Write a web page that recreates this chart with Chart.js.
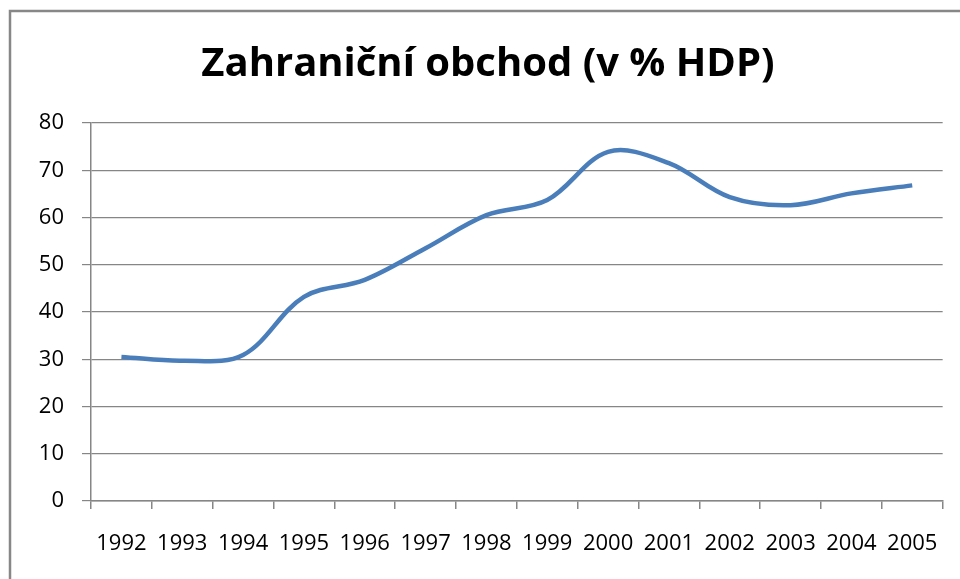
<!DOCTYPE html>
<html>
<head>
<meta charset="utf-8">
<script src="https://cdn.jsdelivr.net/npm/chart.js@4"></script>
<style>
  html, body { margin: 0; padding: 0; background: #fff; overflow: hidden; }
  #wrap { width: 960px; height: 579px; }
</style>
</head>
<body>
<div id="wrap"><canvas id="grafico"></canvas></div>
<script>
// data
const roky = ["1992", "1993", "1994", "1995", "1996", "1997", "1998", "1999", "2000", "2001", "2002", "2003", "2004", "2005"];
const obchod = [30.5, 29.7, 30.9, 43.2, 46.8, 53.5, 60.5, 63.7, 73.9, 71.5, 64.3, 62.6, 65.1, 66.8];
const osaY = { min: 0, max: 80, krok: 10 };

// grey frame at the left and top edge (the Excel chart border)
const ramecek = {
    id: "ramecek",
    beforeDraw(chart) {
        const ctx = chart.ctx;
        ctx.save();
        ctx.strokeStyle = "#878787";
        ctx.lineWidth = 2.5;
        ctx.beginPath();
        ctx.moveTo(10, chart.height);
        ctx.lineTo(10, 11);
        ctx.lineTo(chart.width, 11);
        ctx.stroke();
        ctx.restore();
    }
};

const ctx = document.getElementById("grafico");

new Chart(ctx, {
    type: "line",
    data: {
        labels: roky,
        datasets: [{
            data: obchod,
            borderColor: "#4a7ebb",
            borderWidth: 4.5,
            pointRadius: 0,
            tension: 0.35,
            fill: false
        }]
    },
    options: {
        responsive: true,
        maintainAspectRatio: false,
        animation: false,
        layout: { padding: { left: 33, right: 17, top: 0, bottom: 0 } },
        plugins: {
            legend: { display: false },
            tooltip: { enabled: false },
            title: {
                display: true,
                text: "Zahraniční obchod (v % HDP)",
                color: "#000",
                font: { family: "Open Sans", size: 40, weight: "bold" },
                padding: { top: 41, bottom: 34 }
            }
        },
        scales: {
            x: {
                offset: true,
                border: { color: "#868686", width: 1.5 },
                grid: { drawOnChartArea: false, offset: true, tickLength: 8, color: "#868686", lineWidth: 1.5 },
                ticks: { color: "#000", font: { family: "Open Sans", size: 22 }, padding: 22, maxRotation: 0, autoSkip: false },
                afterFit: s => { s.height = 78; }
            },
            y: {
                min: osaY.min,
                max: osaY.max,
                border: { color: "#868686", width: 1.5 },
                grid: { color: "#868686", lineWidth: 1.2, tickLength: 9 },
                ticks: { stepSize: osaY.krok, color: "#000", font: { family: "Open Sans", size: 22 }, padding: 18 },
                afterFit: s => { s.width = 58; }
            }
        }
    },
    plugins: [ramecek]
});
</script>
</body>
</html>
